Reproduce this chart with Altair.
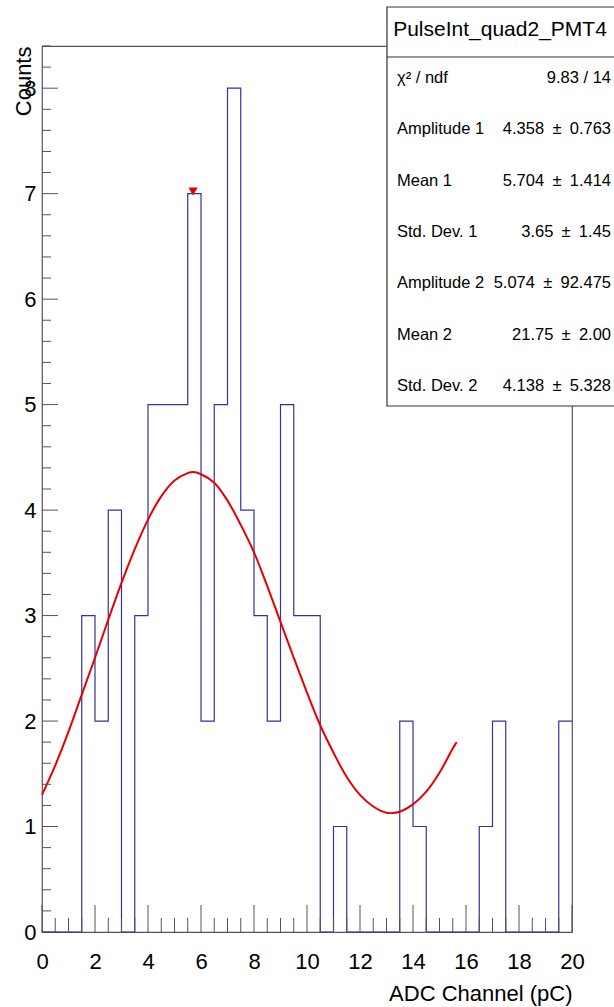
import altair as alt
import pandas as pd

# ---------------- data ----------------
bin_width = 0.5
bin_lo = [0.0, 0.5, 1.0, 1.5, 2.0, 2.5, 3.0, 3.5, 4.0, 4.5,
          5.0, 5.5, 6.0, 6.5, 7.0, 7.5, 8.0, 8.5, 9.0, 9.5,
          10.0, 10.5, 11.0, 11.5, 12.0, 12.5, 13.0, 13.5, 14.0, 14.5,
          15.0, 15.5, 16.0, 16.5, 17.0, 17.5, 18.0, 18.5, 19.0, 19.5]
counts = [0, 0, 0, 3, 2, 4, 0, 3, 5, 5,
          5, 7, 2, 5, 8, 4, 3, 2, 5, 3,
          3, 0, 1, 0, 0, 0, 0, 2, 1, 0,
          0, 0, 0, 1, 2, 0, 0, 0, 0, 2]

fit_x = [0.0, 0.5, 1.0, 1.5, 2.0, 2.5, 3.0, 3.5, 4.0, 4.5, 5.0, 5.5, 5.7, 6.0, 6.5,
         7.0, 7.5, 8.0, 8.5, 9.0, 9.5, 10.0, 10.5, 11.0, 11.5, 12.0, 12.5,
         13.0, 13.3, 13.5, 14.0, 14.5, 15.0, 15.5, 15.65]
fit_y = [1.30, 1.58, 1.90, 2.25, 2.60, 2.96, 3.31, 3.63, 3.91, 4.13, 4.28, 4.35, 4.36,
         4.34, 4.26, 4.09, 3.86, 3.60, 3.28, 2.94, 2.60, 2.27, 1.96, 1.70, 1.47,
         1.30, 1.19, 1.13, 1.13, 1.14, 1.21, 1.33, 1.51, 1.74, 1.80]

peak_x = [5.7]
peak_y = [7.02]

x_tick_labels = [0, 2, 4, 6, 8, 10, 12, 14, 16, 18, 20]
y_tick_labels = [0, 1, 2, 3, 4, 5, 6, 7, 8]
x_minor = [v * 0.5 for v in range(41) if (v * 0.5) % 2 != 0]
y_minor = [round(v * 0.2, 1) for v in range(43) if v % 5 != 0]

stats_title = "PulseInt_quad2_PMT4"
stats_labels = ["\u03c7\u00b2 / ndf", "Amplitude 1", "Mean 1", "Std. Dev. 1",
                "Amplitude 2", "Mean 2", "Std. Dev. 2"]
stats_values = ["9.83 / 14",
                "4.358\u2002\u00b1\u20020.763",
                "5.704\u2002\u00b1\u20021.414",
                "3.65\u2002\u00b1\u20021.45",
                "5.074\u2002\u00b1\u200292.475",
                "21.75\u2002\u00b1\u20022.00",
                "4.138\u2002\u00b1\u20025.328"]

# ---------------- layout ----------------
W, H = 530, 886
FONT = "Liberation Sans"
AX = "#555555"
HIST = "#3232a0"
RED = "#e60000"

hist_df = pd.DataFrame({"x": bin_lo + [bin_lo[-1] + bin_width],
                        "y": counts + [counts[-1]]})
fit_df = pd.DataFrame({"x": fit_x, "y": fit_y})
peak_df = pd.DataFrame({"x": peak_x, "y": peak_y})

xscale = alt.Scale(domain=[0, 20], nice=False, zero=False)
yscale = alt.Scale(domain=[0, 8.4], nice=False, zero=False)

hist = alt.Chart(hist_df).mark_line(
    interpolate="step-after", color=HIST, strokeWidth=1.2
).encode(
    x=alt.X("x:Q", scale=xscale,
            axis=alt.Axis(values=x_tick_labels, ticks=False, domain=False, grid=False,
                          format="d",
                          labelFont=FONT, labelFontSize=22, labelColor="black",
                          labelPadding=19, labelFlush=False,
                          title="ADC Channel (pC)", titleFont=FONT, titleFontSize=22,
                          titleFontWeight="normal", titleColor="black",
                          titleAnchor="end", titleAlign="right",
                          titleX=W, titleY=61, titleBaseline="middle")),
    y=alt.Y("y:Q", scale=yscale,
            axis=alt.Axis(values=y_tick_labels, ticks=False, domain=False, grid=False,
                          format="d",
                          labelFont=FONT, labelFontSize=22, labelColor="black",
                          labelPadding=6, labelFlush=False,
                          title="Counts", titleFont=FONT, titleFontSize=22,
                          titleFontWeight="normal", titleColor="black",
                          titleAngle=270, titleAlign="right",
                          titleX=-19, titleY=0, titleBaseline="middle")),
)

fit = alt.Chart(fit_df).mark_line(
    interpolate="catmull-rom", color=RED, strokeWidth=2
).encode(x="x:Q", y="y:Q")

peak = alt.Chart(peak_df).mark_point(
    shape="triangle-down", filled=True, color=RED, size=85, opacity=1
).encode(x="x:Q", y="y:Q")

xmaj = alt.Chart(pd.DataFrame({"x": x_tick_labels})).mark_rule(
    color=AX, strokeWidth=1
).encode(x="x:Q", y=alt.value(H), y2=alt.value(H - 27))
xmin = alt.Chart(pd.DataFrame({"x": x_minor})).mark_rule(
    color=AX, strokeWidth=1
).encode(x="x:Q", y=alt.value(H), y2=alt.value(H - 14))
ymaj = alt.Chart(pd.DataFrame({"y": y_tick_labels})).mark_rule(
    color=AX, strokeWidth=1
).encode(y="y:Q", x=alt.value(0), x2=alt.value(16))
ymin = alt.Chart(pd.DataFrame({"y": y_minor})).mark_rule(
    color=AX, strokeWidth=1
).encode(y="y:Q", x=alt.value(0), x2=alt.value(9))

# stats box (pixel positions relative to plot origin)
BX0, BX1, BY0, BY1 = 345, 576, -39, 360
box = alt.Chart(pd.DataFrame({"a": [0]})).mark_rect(
    fill="white", stroke="#333333", strokeWidth=1.2
).encode(x=alt.value(BX0), x2=alt.value(BX1), y=alt.value(BY0), y2=alt.value(BY1))
sep = alt.Chart(pd.DataFrame({"a": [0]})).mark_rule(
    color="#333333", strokeWidth=1.2
).encode(x=alt.value(BX0), x2=alt.value(BX1), y=alt.value(11))
title_txt = alt.Chart(pd.DataFrame({"t": [stats_title]})).mark_text(
    font=FONT, fontSize=21, color="black", align="center", baseline="middle"
).encode(text="t:N", x=alt.value(458), y=alt.value(-16))

rows = []
for i, (lab, val) in enumerate(zip(stats_labels, stats_values)):
    yy = 32 + 51.3 * i
    rows.append(alt.Chart(pd.DataFrame({"t": [lab]})).mark_text(
        font=FONT, fontSize=16.5, color="black", align="left", baseline="middle"
    ).encode(text="t:N", x=alt.value(355), y=alt.value(yy)))
    rows.append(alt.Chart(pd.DataFrame({"t": [val]})).mark_text(
        font=FONT, fontSize=16.5, color="black", align="right", baseline="middle"
    ).encode(text="t:N", x=alt.value(569), y=alt.value(yy)))

chart = alt.layer(
    hist, fit, peak, xmaj, xmin, ymaj, ymin, box, sep, title_txt, *rows
).properties(
    width=W, height=H,
    padding={"left": 42, "top": 46, "right": 42, "bottom": 75},
    autosize=alt.AutoSizeParams(type="none"),
    background="white",
).configure_view(stroke=AX, strokeWidth=1.2)

chart.save("out.html", embed_options={"renderer": "svg", "actions": False})
